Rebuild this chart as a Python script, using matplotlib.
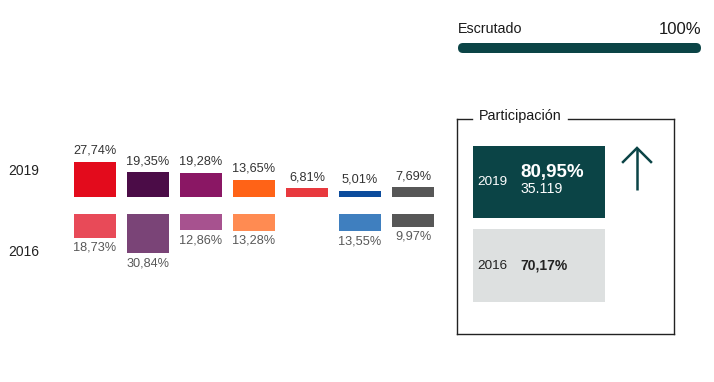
import matplotlib
matplotlib.use("Agg")
import matplotlib.pyplot as plt
from matplotlib.patches import FancyBboxPatch, Rectangle

plt.rcParams['font.family'] = ['Liberation Sans', 'DejaVu Sans']

# ---- data ----
years = ["2019", "2016"]
values_2019 = [27.74, 19.35, 19.28, 13.65, 6.81, 5.01, 7.69]
values_2016 = [18.73, 30.84, 12.86, 13.28, None, 13.55, 9.97]
colors_2019 = ["#e30b1c", "#4b0c47", "#8a1764", "#ff6317", "#e8393e", "#0c4c9c", "#575757"]
colors_2016 = ["#e84a58", "#7a4477", "#a7528f", "#ff8b52", "#ffffff", "#3f7fbf", "#575757"]
escrutado_label = "Escrutado"
escrutado_value = 100
part_title = "Participación"
part_2019 = "80,95%"
votes_2019 = "35.119"
part_2016 = "70,17%"

def fmt(v):
    return f"{v:.2f}".replace(".", ",") + "%"

W, H = 714, 382
fig = plt.figure(figsize=(W / 100, H / 100), dpi=100)

# overlay axes in pixel coordinates
ov = fig.add_axes([0, 0, 1, 1])
ov.set_xlim(0, W)
ov.set_ylim(H, 0)
ov.axis("off")

# ---- bar axes ----
ppu = 1.27          # pixels per percentage point
x0, colw = 68.5, 53.0
ytop, ybot = 125, 285
base19 = 197
base16 = 214
ax = fig.add_axes([x0 / W, 1 - ybot / H, 7 * colw / W, (ybot - ytop) / H])
ax.set_xlim(-0.5, 6.5)
ax.set_ylim(-(ybot - base19) / ppu, (base19 - ytop) / ppu)
ax.axis("off")
off16 = (base16 - base19) / ppu
n = len(values_2019)
for i in range(n):
    v = values_2019[i]
    ax.bar(i, v, width=42 / colw, color=colors_2019[i], bottom=0)
    ax.text(i, v + 11 / ppu, fmt(v), ha="center", va="center", fontsize=9.2, color="#333333")
    v2 = values_2016[i]
    if v2 is not None:
        ax.bar(i, -v2, width=42 / colw, color=colors_2016[i], bottom=-off16)
        ax.text(i, -off16 - v2 - 10 / ppu, fmt(v2), ha="center", va="center", fontsize=9.2, color="#585858")

ov.text(8, 171, years[0], ha="left", va="center", fontsize=10, color="#222222")
ov.text(8, 252, years[1], ha="left", va="center", fontsize=10, color="#222222")

# ---- escrutado ----
dark = "#0b4446"
ov.text(458, 29, escrutado_label, ha="left", va="center", fontsize=10.3, color="#1a1a1a")
ov.text(701, 29, f"{escrutado_value}%", ha="right", va="center", fontsize=12, color="#1a1a1a")
ov.add_patch(FancyBboxPatch((458, 43), 243, 10, boxstyle="round,pad=0,rounding_size=5",
                            facecolor=dark, edgecolor="none"))

# ---- participacion box ----
lc = "#222222"
lw = 1.0
ov.plot([457, 457], [119, 334], color=lc, lw=lw)
ov.plot([674, 674], [119, 334], color=lc, lw=lw)
ov.plot([457, 674], [334, 334], color=lc, lw=lw)
ov.plot([457, 472], [119, 119], color=lc, lw=lw)
ov.plot([568, 674], [119, 119], color=lc, lw=lw)
ov.text(479, 116, part_title, ha="left", va="center", fontsize=10.4, color="#1a1a1a")

ov.add_patch(Rectangle((473, 146), 132, 72, facecolor=dark, edgecolor="none"))
ov.add_patch(Rectangle((473, 229), 132, 73, facecolor="#dde0e0", edgecolor="none"))
ov.text(477, 182, years[0], ha="left", va="center", fontsize=9.7, color="white")
ov.text(520, 172, part_2019, ha="left", va="center", fontsize=13.5, fontweight="bold", color="white")
ov.text(521, 189, votes_2019, ha="left", va="center", fontsize=10.2, color="white")
ov.text(477, 266, years[1], ha="left", va="center", fontsize=9.7, color="#222222")
ov.text(520, 266, part_2016, ha="left", va="center", fontsize=10, fontweight="bold", color="#222222")

# arrow
ov.plot([637, 637], [148, 190], color=dark, lw=1.8, solid_capstyle="butt")
ov.plot([623, 637, 651], [162, 148, 162], color=dark, lw=1.8, solid_joinstyle="miter")

fig.savefig("out.png", dpi=100, facecolor="white")
